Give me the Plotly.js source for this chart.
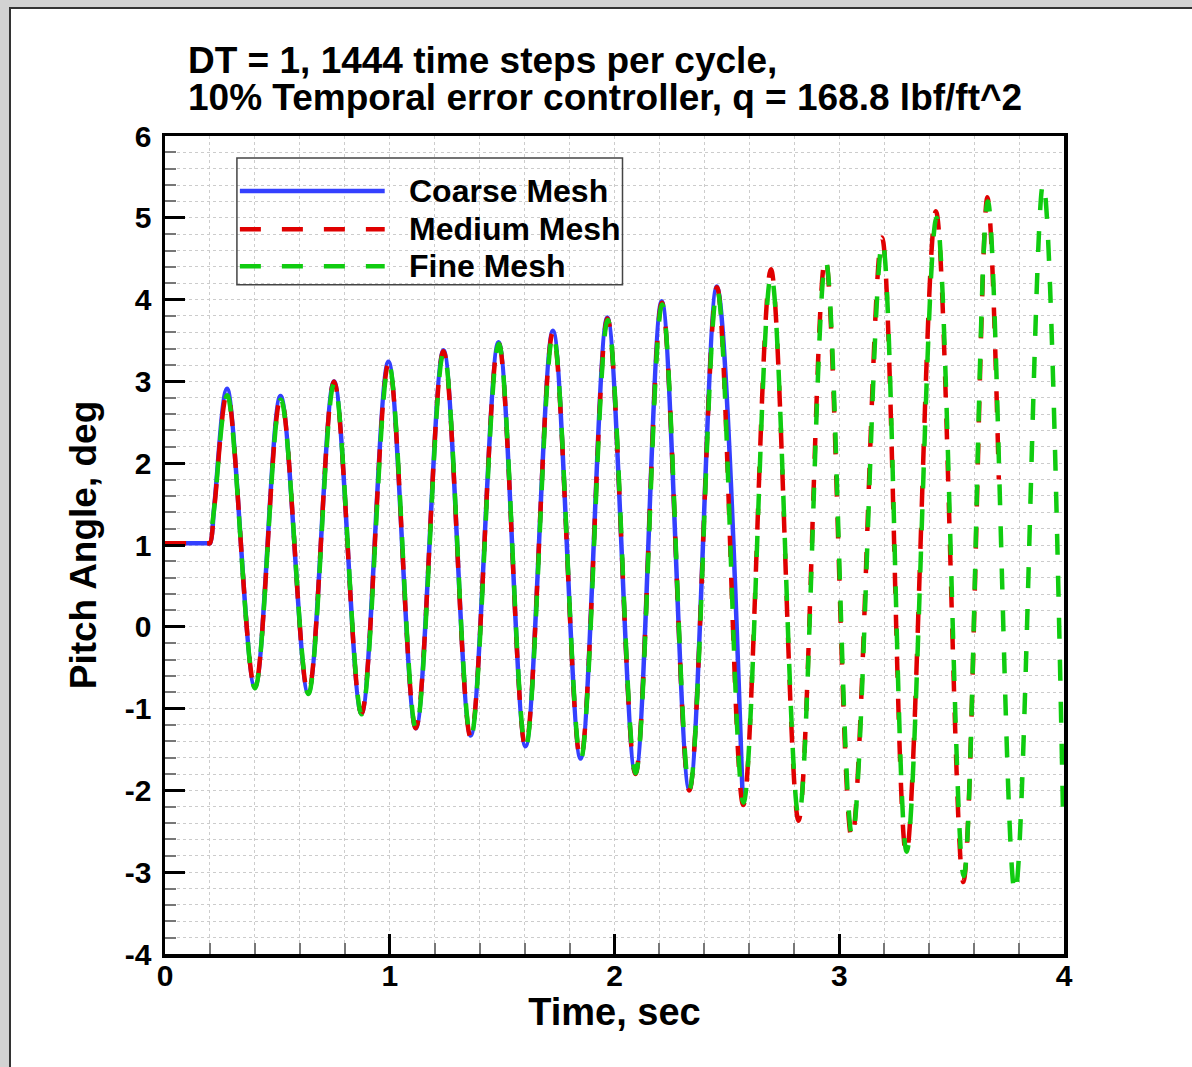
<!DOCTYPE html>
<html><head><meta charset="utf-8">
<script src="https://cdn.plot.ly/plotly-3.0.1.min.js"></script>
<style>
html,body{margin:0;padding:0;background:#d2d2d2;overflow:hidden;}
#frame{position:absolute;left:9px;top:7px;width:1183px;height:1060px;background:#fff;border-left:2px solid #333;border-top:2px solid #333;box-sizing:border-box;}
#chart{position:absolute;left:0;top:0;width:1192px;height:1067px;}
</style></head>
<body><div id="frame"></div><div id="chart"></div>
<script>
// ---- data ----
const coarseT = [0, 0.19, 0.2, 0.219, 0.276, 0.40, 0.514, 0.637, 0.752, 0.874, 0.994, 1.116, 1.239, 1.36, 1.484, 1.604, 1.726, 1.849, 1.968, 2.093, 2.21, 2.333, 2.455, 2.57];
const coarseV = [1.02, 1.02, 1.02, 1.47, 2.91, -0.74, 2.82, -0.81, 3.0, -1.06, 3.24, -1.24, 3.38, -1.33, 3.48, -1.46, 3.62, -1.61, 3.78, -1.79, 3.98, -1.99, 4.16, -2.08];

const mediumT = [0, 0.19, 0.2, 0.219, 0.277, 0.40, 0.515, 0.637, 0.752, 0.874, 0.995, 1.116, 1.239, 1.36, 1.484, 1.604, 1.726, 1.849, 1.969, 2.093, 2.211, 2.333, 2.456, 2.573, 2.696, 2.819, 2.938, 3.056, 3.19, 3.298, 3.43, 3.552, 3.659, 3.71];
const mediumV = [1.02, 1.02, 1.02, 1.45, 2.86, -0.74, 2.80, -0.81, 3.0, -1.06, 3.22, -1.24, 3.37, -1.35, 3.47, -1.47, 3.60, -1.62, 3.77, -1.80, 3.96, -2.0, 4.15, -2.18, 4.37, -2.37, 4.51, -2.59, 4.76, -2.78, 5.08, -3.12, 5.25, 1.8];

const fineT = [0.2, 0.219, 0.277, 0.40, 0.515, 0.638, 0.753, 0.875, 0.996, 1.117, 1.24, 1.361, 1.485, 1.605, 1.727, 1.85, 1.97, 2.094, 2.212, 2.334, 2.457, 2.574, 2.697, 2.82, 2.94, 3.058, 3.192, 3.3, 3.433, 3.554, 3.661, 3.782, 3.907, 3.995];
const fineV = [1.0, 1.45, 2.83, -0.75, 2.78, -0.82, 2.98, -1.07, 3.21, -1.25, 3.36, -1.35, 3.46, -1.47, 3.58, -1.62, 3.75, -1.79, 3.94, -1.98, 4.12, -2.15, 4.3, -2.32, 4.47, -2.56, 4.7, -2.75, 5.0, -3.05, 5.2, -3.25, 5.42, -2.2];

const seriesNames = ['Coarse Mesh', 'Medium Mesh', 'Fine Mesh'];
const xTickVals = [0, 1, 2, 3, 4];
const xTickText = ['0', '1', '2', '3', '4'];
const yTickVals = [-4, -3, -2, -1, 0, 1, 2, 3, 4, 5, 6];
const yTickText = ['-4', '-3', '-2', '-1', '0', '1', '2', '3', '4', '5', '6'];
const titleLines = ['DT = 1, 1444 time steps per cycle,', '10% Temporal error controller, q = 168.8 lbf/ft^2'];
const xTitle = 'Time, sec';
const yTitle = 'Pitch Angle, deg';

// ---- styling ----
const FONT = 'Liberation Sans, Arial, Helvetica, sans-serif';
const LW = 4.5;
const colors = ['#3440ff', '#e00000', '#10cc10'];
const dashes = ['solid', '21px,21px', '0px,21px,21px,0px'];
const traces = [
  {x: coarseT, y: coarseV, name: seriesNames[0], mode: 'lines',
   line: {color: colors[0], width: LW, shape: 'spline', smoothing: 1}},
  {x: mediumT, y: mediumV, name: seriesNames[1], mode: 'lines',
   line: {color: colors[1], width: LW, dash: dashes[1], shape: 'spline', smoothing: 1}},
  {x: fineT, y: fineV, name: seriesNames[2], mode: 'lines',
   line: {color: colors[2], width: LW, dash: dashes[2], shape: 'spline', smoothing: 1}}
];

const gridCol = '#cccccc';
const axisCommon = {
  ticks: 'inside', ticklen: 20, tickwidth: 3, tickcolor: '#000',
  showline: true, linewidth: 3.5, linecolor: '#000', mirror: true,
  showgrid: true, gridcolor: gridCol, griddash: 'dot', gridwidth: 1,
  zeroline: false, tickmode: 'array',
  tickfont: {family: FONT, size: 30, weight: 700, color: '#000'},
  minor: {dtick: 0.2, tick0: 0, ticks: 'inside', ticklen: 11, tickwidth: 2, tickcolor: '#777',
          showgrid: true, gridcolor: gridCol, griddash: 'dot', gridwidth: 1}
};

// manual legend box (paper coordinates of the plot area)
const legRows = [0.9328, 0.8859, 0.8407];
const legShapes = [
  {type: 'rect', xref: 'paper', yref: 'paper', x0: 0.08, x1: 0.5089, y0: 0.8181, y1: 0.9731,
   line: {color: '#444', width: 1.5}, fillcolor: 'rgba(0,0,0,0)', layer: 'above'}
];
const legAnn = [];
for (let i = 0; i < 3; i++) {
  legShapes.push({type: 'line', xref: 'paper', yref: 'paper', x0: 0.0833, x1: 0.2444, y0: legRows[i], y1: legRows[i],
    line: {color: colors[i], width: LW, dash: i === 0 ? 'solid' : '21px,21px'}, layer: 'above'});
  legAnn.push({text: seriesNames[i], xref: 'paper', yref: 'paper', x: 0.2689, y: legRows[i],
    xanchor: 'left', yanchor: 'middle', showarrow: false,
    font: {family: FONT, size: 32, weight: 700, color: '#000'}});
}

const layout = {
  width: 1192, height: 1067,
  margin: {l: 165, r: 128, t: 136, b: 113, pad: 0},
  paper_bgcolor: 'rgba(0,0,0,0)', plot_bgcolor: '#fff',
  font: {family: FONT, color: '#000'},
  showlegend: false,
  xaxis: Object.assign({}, axisCommon, {
    range: [0, 4], tickvals: xTickVals, ticktext: xTickText, ticklabelstandoff: -8,
    title: {text: xTitle, font: {family: FONT, size: 38, weight: 700}, standoff: 8}
  }),
  yaxis: Object.assign({}, axisCommon, {
    range: [-4, 6], tickvals: yTickVals, ticktext: yTickText, ticklabelstandoff: 4,
    title: {text: yTitle, font: {family: FONT, size: 37, weight: 700}, standoff: 18}
  }),
  shapes: legShapes,
  annotations: [
    {text: titleLines[0], xref: 'paper', yref: 'paper', x: 0.0233, y: 1.0928,
     xanchor: 'left', yanchor: 'middle', showarrow: false,
     font: {family: FONT, size: 37, weight: 700, color: '#000'}},
    {text: titleLines[1], xref: 'paper', yref: 'paper', x: 0.0233, y: 1.0476,
     xanchor: 'left', yanchor: 'middle', showarrow: false,
     font: {family: FONT, size: 37, weight: 700, color: '#000'}}
  ].concat(legAnn)
};

Plotly.newPlot('chart', traces, layout, {displayModeBar: false, staticPlot: true});
</script></body></html>
